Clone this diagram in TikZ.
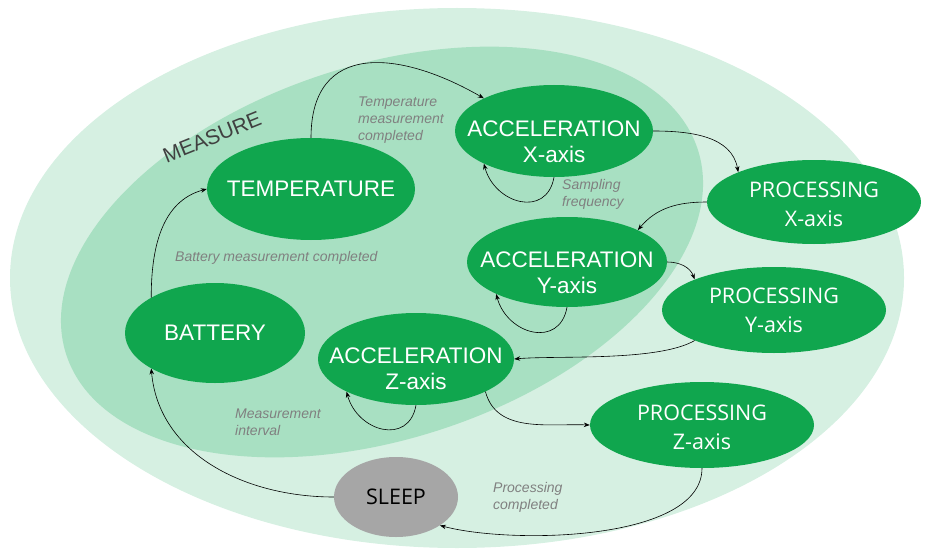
\documentclass[tikz,border=0pt]{standalone}
\usepackage{fontspec}
\setmainfont{Liberation Sans}
\newfontfamily\procfont{Open Sans}
\usetikzlibrary{shapes.geometric,arrows.meta}
\definecolor{outerbg}{RGB}{214,240,226}
\definecolor{innerbg}{RGB}{168,224,194}
\definecolor{stategreen}{RGB}{16,166,78}
\definecolor{sleepgray}{RGB}{166,166,166}
\definecolor{notegray}{RGB}{128,128,128}
\definecolor{measuregray}{RGB}{64,64,64}

\begin{document}
\begin{tikzpicture}[x=1pt,y=1pt,
	state/.style={ellipse, fill=stategreen, inner sep=0pt},
	acctext/.style={text=white, align=center, font=\fontsize{22.5}{26}\selectfont},
	proctext/.style={text=white, align=center, font=\procfont\fontsize{21.5}{29}\selectfont},
	note/.style={text=notegray, align=left, anchor=west, inner sep=0pt, font=\itshape\fontsize{14}{17}\selectfont},
	trans/.style={-{Stealth[length=6pt,width=4.5pt]}, line width=0.6pt}]
		\useasboundingbox (0,0) rectangle (925,550);
		\fill[outerbg] (457,272) ellipse [x radius=447, y radius=270];
		\fill[innerbg] (382,298) ellipse [x radius=332, y radius=187, rotate=18];
		\node[rotate=22, text=measuregray, font=\fontsize{21}{24}\selectfont] (measure) at (212,413) {MEASURE};

		\node[state, minimum width=208, minimum height=102, label={[acctext]center:TEMPERATURE}] (temp) at (311,361) {};
		\node[state, minimum width=198, minimum height=92, label={[acctext,yshift=-11]center:ACCELERATION\\X-axis}] (accx) at (554,419) {};
		\node[state, minimum width=214, minimum height=84, label={[proctext,yshift=-2]center:PROCESSING\\X-axis}] (procx) at (814,348) {};
		\node[state, minimum width=200, minimum height=90, label={[acctext,yshift=-11]center:ACCELERATION\\Y-axis}] (accy) at (567,288) {};
		\node[state, minimum width=224, minimum height=86, label={[proctext]center:PROCESSING\\Y-axis}] (procy) at (774,240) {};
		\node[state, minimum width=180, minimum height=100, label={[acctext]center:BATTERY}] (batt) at (215,217) {};
		\node[state, minimum width=196, minimum height=92, label={[acctext,yshift=-10]center:ACCELERATION\\Z-axis}] (accz) at (416,191) {};
		\node[state, minimum width=224, minimum height=86, label={[proctext,yshift=-2]center:PROCESSING\\Z-axis}] (procz) at (702,125) {};
		\node[state, fill=sleepgray, minimum width=124, minimum height=80, label={[proctext,text=black]center:SLEEP}] (sleep) at (396,53) {};

		\draw[trans] (batt.north west) to[out=90, in=195] (temp.west);
		\draw[trans] (temp.north) to[out=90, in=150, looseness=1.4] (accx.north west);
		\foreach \n in {accx,accy,accz}{
			\draw[trans] (\n.south) to[out=-100, in=-75, looseness=1.5] (\n.south west);
		}
		\draw[trans] (accx.east) to[out=0, in=100] (procx.north west);
		\draw[trans] (procx.west) to[out=180, in=50] (accy.north east);
		\draw[trans] (accy.east) to[out=0, in=110] (procy.north west);
		\draw[trans] (procy.south west) to[out=-150, in=5, looseness=0.6] (accz.east);
		\draw[trans] (accz.south east) to[out=-75, in=178] (procz.west);
		\draw[trans] (procz.south) to[out=-90, in=-15, looseness=0.7] (sleep.south east);
		\draw[trans] (sleep.west) to[out=180, in=-85] (batt.south west);

		\node[note] (tempdone) at (358,430) {Temperature\\measurement\\completed};
		\node[note] (sampling) at (562,355.5) {Sampling\\frequency};
		\node[note] (battdone) at (175,292) {Battery measurement completed};
		\node[note] (interval) at (235,127.5) {Measurement\\interval};
		\node[note] (procdone) at (493,52.5) {Processing\\completed};
	\end{tikzpicture}
\end{document}
